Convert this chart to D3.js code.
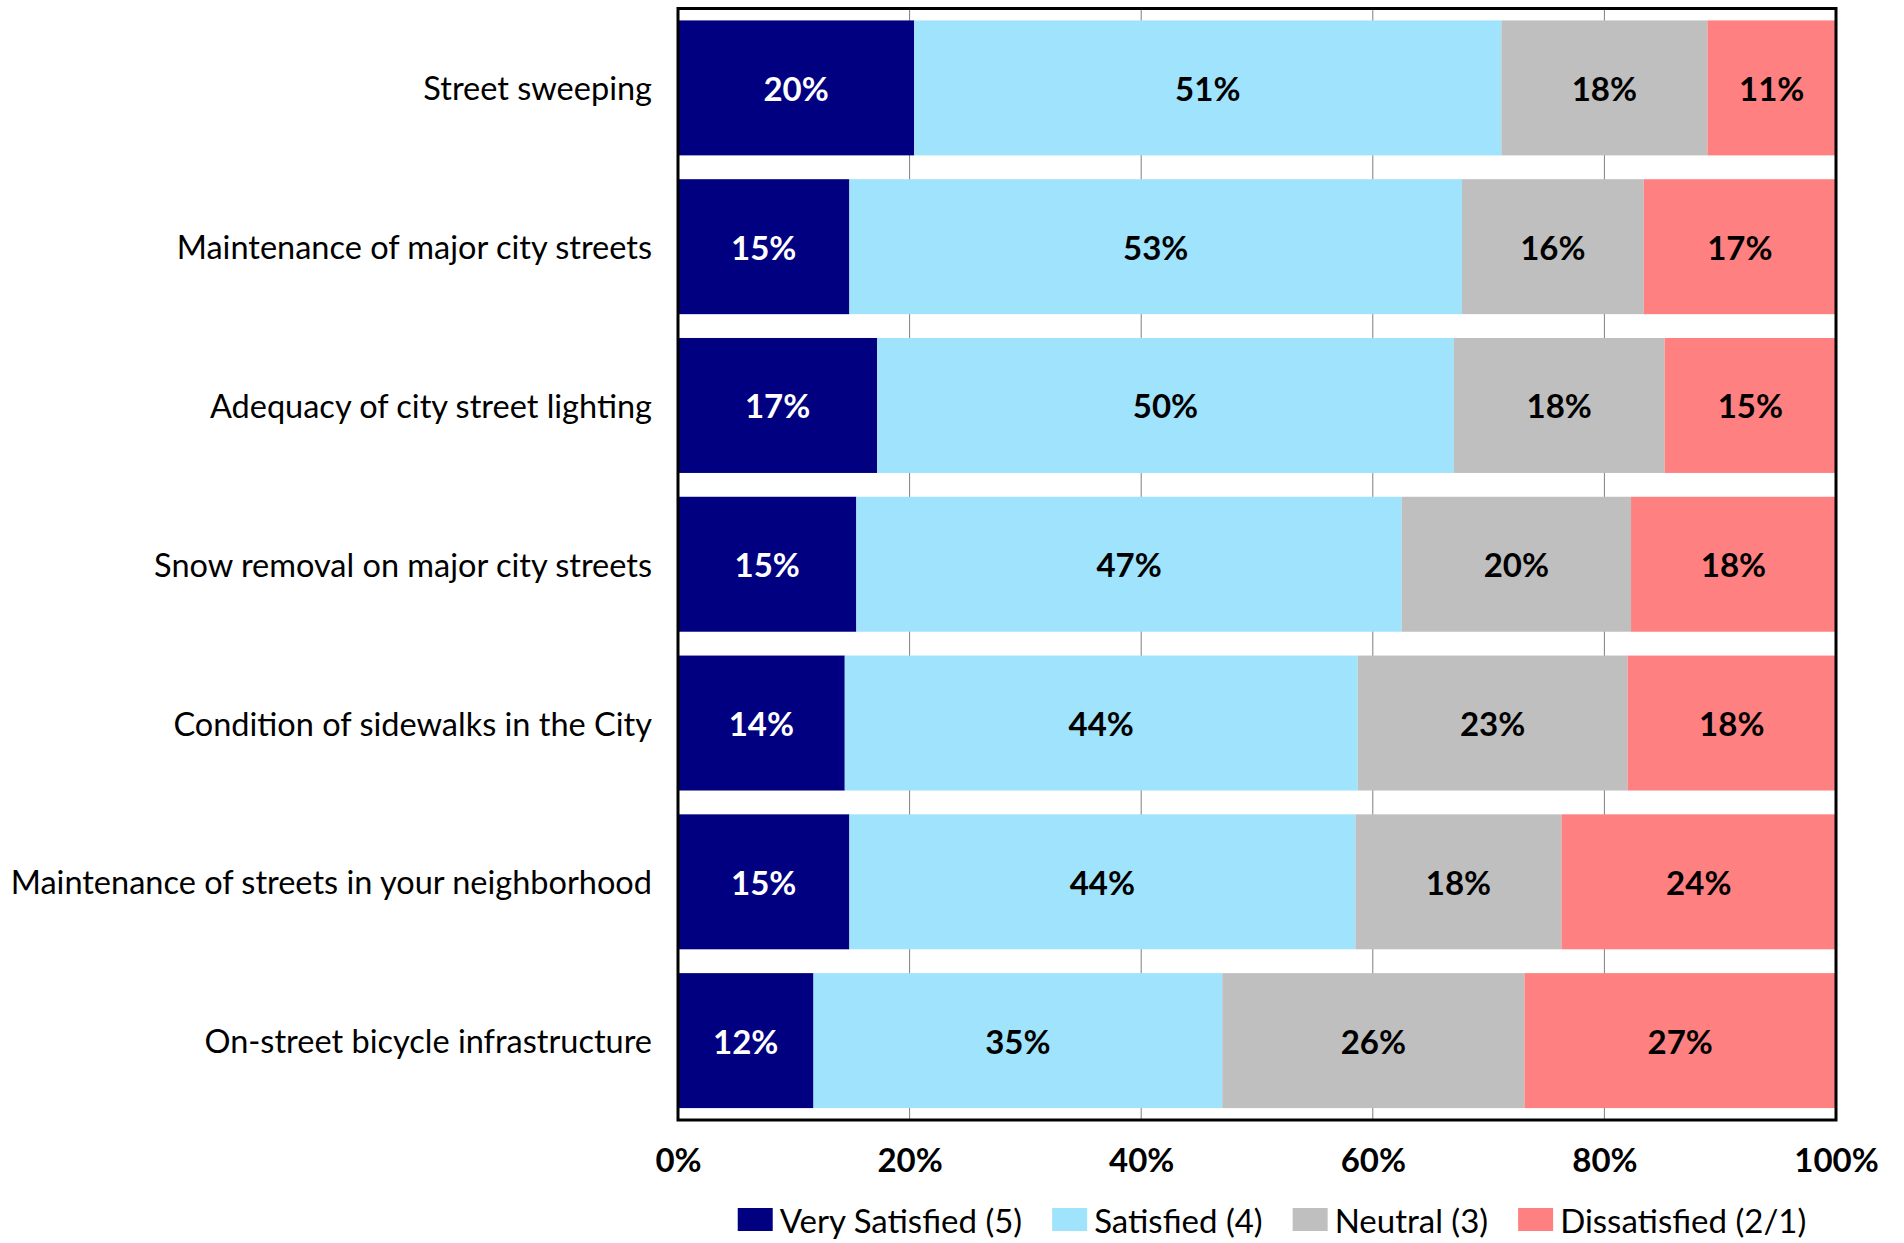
<!DOCTYPE html>
<html><head><meta charset="utf-8">
<script src="https://cdn.jsdelivr.net/npm/d3@7"></script>
<style>
body{margin:0;background:#fff;}
text{font-family:Lato,"Open Sans",sans-serif;}
</style></head>
<body>
<svg id="c" width="1904" height="1243"></svg>
<script>
const categories = [
  "Street sweeping",
  "Maintenance of major city streets",
  "Adequacy of city street lighting",
  "Snow removal on major city streets",
  "Condition of sidewalks in the City",
  "Maintenance of streets in your neighborhood",
  "On-street bicycle infrastructure"
];
const seriesNames = ["Very Satisfied (5)", "Satisfied (4)", "Neutral (3)", "Dissatisfied (2/1)"];
const seriesColors = ["#000080", "#9FE3FD", "#BFBFBF", "#FF8080"];
const labelColors = ["#ffffff", "#000000", "#000000", "#000000"];
const verySatisfied = [20.4, 14.8, 17.2, 15.4, 14.4, 14.8, 11.7];
const satisfied     = [50.7, 52.9, 49.8, 47.1, 44.3, 43.7, 35.3];
const neutral       = [17.8, 15.7, 18.2, 19.8, 23.3, 17.8, 26.1];
const dissatisfied  = [11.1, 16.6, 14.8, 17.7, 18.0, 23.7, 26.9];
const tickValues = [0, 20, 40, 60, 80, 100];

const series = [verySatisfied, satisfied, neutral, dissatisfied];
const rows = categories.map((c, i) => {
  const o = {cat: c};
  seriesNames.forEach((s, j) => o[s] = series[j][i]);
  return o;
});
const stack = d3.stack().keys(seriesNames).offset(d3.stackOffsetExpand)(rows);

const svg = d3.select("#c");
const m = {left: 678, right: 1836, top: 8.5, bottom: 1120};
const x = d3.scaleLinear().domain([0, 1]).range([m.left, m.right]);
const y = d3.scaleBand().domain(categories).range([m.top, m.bottom]).paddingInner(0.15).paddingOuter(0.075);

// gridlines
svg.append("g").selectAll("line").data([0.2, 0.4, 0.6, 0.8]).join("line")
  .attr("x1", d => x(d)).attr("x2", d => x(d))
  .attr("y1", m.top).attr("y2", m.bottom)
  .attr("stroke", "#7f7f7f").attr("stroke-width", 1);

// bars
const g = svg.append("g");
stack.forEach((layer, j) => {
  g.append("g").selectAll("rect").data(layer).join("rect")
    .attr("x", d => x(d[0])).attr("width", d => x(d[1]) - x(d[0]))
    .attr("y", d => y(d.data.cat)).attr("height", y.bandwidth())
    .attr("fill", seriesColors[j]);
  g.append("g").selectAll("text").data(layer).join("text")
    .attr("x", d => (x(d[0]) + x(d[1])) / 2)
    .attr("y", d => y(d.data.cat) + y.bandwidth() / 2)
    .attr("text-anchor", "middle").attr("dominant-baseline", "central")
    .attr("font-weight", "bold").attr("font-size", 33)
    .attr("fill", labelColors[j])
    .text(d => Math.round(d.data[seriesNames[j]]) + "%");
});

// border
svg.append("rect").attr("x", m.left).attr("y", m.top)
  .attr("width", m.right - m.left).attr("height", m.bottom - m.top)
  .attr("fill", "none").attr("stroke", "#000").attr("stroke-width", 3);

// category axis labels
svg.append("g").selectAll("text").data(categories).join("text")
  .attr("x", 652).attr("y", d => y(d) + y.bandwidth() / 2)
  .attr("text-anchor", "end").attr("dominant-baseline", "central")
  .attr("font-size", 32.5).attr("fill", "#000").text(d => d);

// x axis
const xa = svg.append("g").attr("transform", `translate(0,${m.bottom})`)
  .call(d3.axisBottom(x).tickValues(tickValues.map(v => v / 100)).tickSize(0).tickPadding(29)
    .tickFormat(d => Math.round(d * 100) + "%"));
xa.select(".domain").remove();
xa.selectAll("text").attr("font-size", 33).attr("font-weight", "bold").attr("fill", "#000")
  .attr("font-family", "Lato, sans-serif");

// legend
const leg = svg.append("g");
const items = [];
seriesNames.forEach((s, j) => {
  const it = leg.append("g");
  it.append("rect").attr("x", 0).attr("y", -12).attr("width", 35).attr("height", 23).attr("fill", seriesColors[j]);
  const t = it.append("text").attr("x", 42).attr("y", 0).attr("dominant-baseline", "central")
    .attr("font-size", 33).attr("fill", "#000").text(s);
  const w = 42 + t.node().getComputedTextLength();
  items.push({it, w});
});
const gap = 30;
const total = d3.sum(items, d => d.w) + gap * (items.length - 1);
let start = 1272 - total / 2;
items.forEach(d => { d.it.attr("transform", `translate(${start},1220)`); start += d.w + gap; });
</script>
</body></html>
